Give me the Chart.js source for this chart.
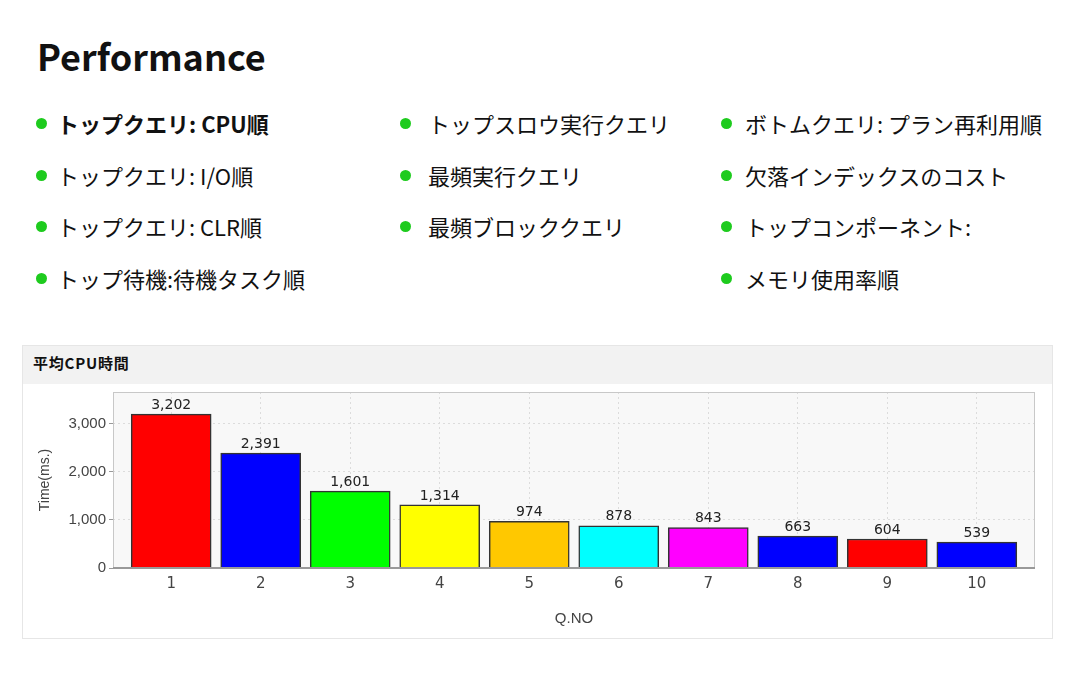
<!DOCTYPE html>
<html lang="ja">
<head>
<meta charset="utf-8">
<script src="https://cdn.jsdelivr.net/npm/chart.js@4"></script>
<style>
    body { margin: 0; background: #fff; font-family: "Noto Sans CJK JP", "Noto Sans", sans-serif; color: #111; }
    #page { position: relative; width: 1067px; height: 684px; overflow: hidden; }
    h1 { position: absolute; left: 37px; top: 30px; margin: 0; font-size: 36px; font-weight: bold; line-height: 50px; }
    .item { position: absolute; font-size: 22px; line-height: 30px; white-space: nowrap; }
    .item .dot { position: absolute; top: 10px; width: 11px; height: 11px; border-radius: 50%; background: #1ecb1e; }
    .item.bold { font-weight: bold; }
    #panel { position: absolute; left: 22px; top: 345px; width: 1029px; height: 292px; border: 1px solid #e6e6e6; }
    #panelHead { height: 38px; background: #f2f2f2; font-size: 15px; letter-spacing: 0.8px; font-weight: bold; line-height: 34px; padding-left: 10px; }
    #chartBox { position: absolute; left: 0; top: 38px; width: 1029px; height: 254px; }
</style>
</head>
<body>
<div id="page">
    <h1>Performance</h1>
    <div id="menu"></div>
    <div id="panel">
        <div id="panelHead">平均CPU時間</div>
        <div id="chartBox"><canvas id="cpuChart"></canvas></div>
    </div>
</div>
<script>
// menu lists, one per column
const menuCol1 = ['トップクエリ: CPU順', 'トップクエリ: I/O順', 'トップクエリ: CLR順', 'トップ待機:待機タスク順'];
const menuCol2 = ['トップスロウ実行クエリ', '最頻実行クエリ', '最頻ブロッククエリ'];
const menuCol3 = ['ボトムクエリ: プラン再利用順', '欠落インデックスのコスト', 'トップコンポーネント:', 'メモリ使用率順'];

// chart data
const queryNo = [1, 2, 3, 4, 5, 6, 7, 8, 9, 10];
const cpuTime = [3202, 2391, 1601, 1314, 974, 878, 843, 663, 604, 539];
const barColors = ['#ff0000', '#0000ff', '#00ff00', '#ffff00', '#ffc800', '#00ffff', '#ff00ff', '#0000ff', '#ff0000', '#0000ff'];
const yTicks = [0, 1000, 2000, 3000];

function renderMenu() {
    const menu = document.getElementById('menu');
    const cols = [
        { list: menuCol1, dotX: 36, textX: 57 },
        { list: menuCol2, dotX: 400, textX: 428 },
        { list: menuCol3, dotX: 721, textX: 745 }
    ];
    cols.forEach(col => {
        col.list.forEach((txt, i) => {
            const el = document.createElement('div');
            el.className = 'item' + (col.list === menuCol1 && i === 0 ? ' bold' : '');
            el.style.left = col.textX + 'px';
            el.style.top = (108 + i * 51.5) + 'px';
            el.innerHTML = `<span class="dot" style="left:${col.dotX - col.textX}px"></span>${txt}`;
            menu.appendChild(el);
        });
    });
}

// grey plot background + frame
const plotBg = {
    id: 'plotBg',
    beforeDraw(chart) {
        const { ctx, chartArea: a } = chart;
        ctx.save();
        ctx.fillStyle = '#f8f8f8';
        ctx.fillRect(a.left, a.top, a.right - a.left, a.bottom - a.top);
        ctx.restore();
    },
    afterDraw(chart) {
        const { ctx, chartArea: a } = chart;
        ctx.save();
        ctx.strokeStyle = '#c8c8c8';
        ctx.lineWidth = 1;
        ctx.strokeRect(a.left + 0.5, a.top + 0.5, a.right - a.left - 1, a.bottom - a.top);
        ctx.strokeStyle = '#999';
        ctx.lineWidth = 2;
        ctx.beginPath();
        ctx.moveTo(a.left, a.bottom);
        ctx.lineTo(a.right, a.bottom);
        ctx.stroke();
        ctx.restore();
    }
};

// value labels above the bars
const valueLabels = {
    id: 'valueLabels',
    afterDatasetsDraw(chart) {
        const { ctx } = chart;
        const meta = chart.getDatasetMeta(0);
        ctx.save();
        ctx.font = '14px "DejaVu Sans", sans-serif';
        ctx.fillStyle = '#222';
        ctx.textAlign = 'center';
        ctx.textBaseline = 'bottom';
        meta.data.forEach((bar, i) => {
            ctx.fillText(cpuTime[i].toLocaleString('en-US'), bar.x, bar.y - 2);
        });
        ctx.restore();
    }
};

function renderChart() {
    new Chart(document.getElementById('cpuChart'), {
        type: 'bar',
        data: {
            datasets: [{
                data: queryNo.map((q, i) => ({ x: q, y: cpuTime[i] })),
                backgroundColor: barColors,
                borderColor: '#333',
                borderWidth: 1.5,
                barThickness: 80
            }]
        },
        options: {
            responsive: true,
            maintainAspectRatio: false,
            animation: false,
            layout: { padding: { left: 10, right: 17, top: 8, bottom: 6 } },
            plugins: { legend: { display: false }, tooltip: { enabled: false } },
            scales: {
                x: {
                    type: 'linear',
                    offset: false,
                    min: 0.35,
                    max: 10.65,
                    afterBuildTicks(axis) { axis.ticks = queryNo.map(v => ({ value: v })); },
                    grid: { color: '#dcdcdc', drawTicks: false, offset: false },
                    border: { display: false, dash: [2, 3] },
                    ticks: { color: '#444', font: { family: 'DejaVu Sans', size: 15 }, padding: 7, minRotation: 0, maxRotation: 0 },
                    title: { display: true, text: 'Q.NO', color: '#444', font: { family: 'Liberation Sans', size: 15 }, padding: { top: 3 } },
                    afterFit(scale) { scale.height = 64; }
                },
                y: {
                    min: 0,
                    max: 3664,
                    afterBuildTicks(axis) { axis.ticks = yTicks.map(v => ({ value: v })); },
                    grid: { color: '#dcdcdc', drawTicks: true, tickLength: 4, tickColor: '#999' },
                    border: { display: false, dash: [2, 3] },
                    ticks: {
                        color: '#444',
                        font: { family: 'Liberation Sans', size: 15 },
                        padding: 3,
                        callback: v => Number(v).toLocaleString('en-US')
                    },
                    title: { display: true, text: 'Time(ms.)', color: '#444', font: { family: 'Liberation Sans', size: 14 }, padding: { bottom: 2 } },
                    afterFit(scale) {
                        scale.width = 80;
                        scale.paddingTop = 0;
                        scale.paddingBottom = 0;
                    }
                }
            }
        },
        plugins: [plotBg, valueLabels]
    });
}

renderMenu();
renderChart();
</script>
</body>
</html>
